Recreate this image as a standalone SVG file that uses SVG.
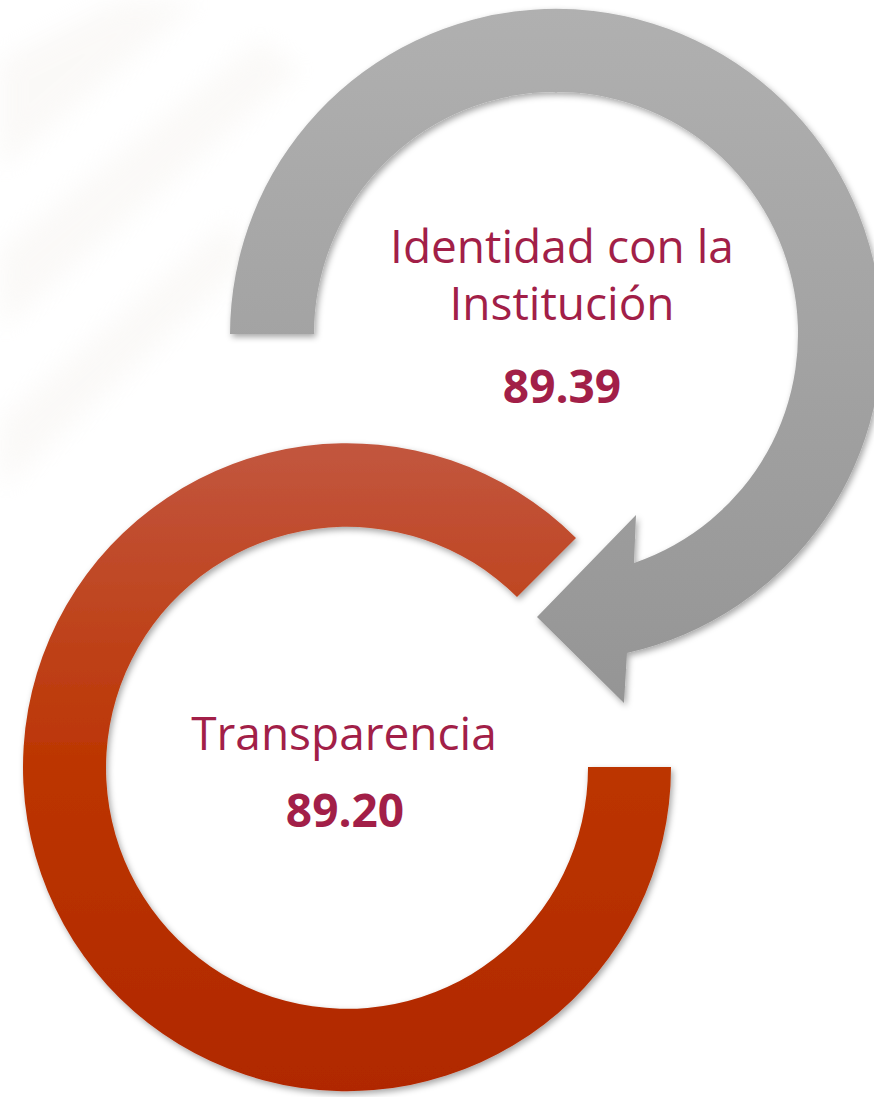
<svg xmlns="http://www.w3.org/2000/svg" width="874" height="1097" viewBox="0 0 874 1097">
  <style>
    .lbl { font-family: "Open Sans", "Liberation Sans", sans-serif; font-size: 46px; fill: #a21f48; text-anchor: middle; }
    .num { font-family: "Open Sans", "Liberation Sans", sans-serif; font-size: 46px; font-weight: bold; fill: #a21f48; text-anchor: middle; }
  </style>
  <defs>
    <linearGradient id="gGray" gradientUnits="userSpaceOnUse" x1="0" y1="8" x2="0" y2="703">
      <stop offset="0" stop-color="#b0b0b0"/>
      <stop offset="1" stop-color="#959595"/>
    </linearGradient>
    <linearGradient id="gRed" gradientUnits="userSpaceOnUse" x1="0" y1="443" x2="0" y2="1091">
      <stop offset="0" stop-color="#c2563f"/>
      <stop offset="0.5" stop-color="#bc3502"/>
      <stop offset="1" stop-color="#b02800"/>
    </linearGradient>
    <filter id="shadow" x="-10%" y="-10%" width="120%" height="120%">
      <feDropShadow dx="2" dy="3" stdDeviation="3" flood-color="#000" flood-opacity="0.35"/>
    </filter>
    <filter id="blur" x="-20%" y="-20%" width="140%" height="140%">
      <feGaussianBlur stdDeviation="12"/>
    </filter>
  </defs>
  <rect width="874" height="1097" fill="#ffffff"/>
  <g id="background" fill="#f3efea" opacity="0.35" filter="url(#blur)">
    <polygon points="0,60 120,0 200,0 0,170"/>
    <polygon points="0,250 260,40 300,70 0,330"/>
    <polygon points="0,420 230,220 250,260 0,490"/>
  </g>
  <g id="connectors">
    <path id="arrow-gray" d="M 314,334 L 230,334 A 326 326 0 1 1 627,653 L 624,703 L 537,617 L 636,515 L 634,563 A 242 242 0 1 0 314,334 Z" fill="url(#gGray)" filter="url(#shadow)"/>
  </g>
  <g id="node-transparencia">
    <path d="M 588,767 L 671,767 A 324 324 0 1 1 576,538 L 517,597 A 241 241 0 1 0 588,767 Z" fill="url(#gRed)" filter="url(#shadow)"/>
    <text class="lbl" x="344" y="750">Transparencia</text>
    <text class="num" x="345" y="827">89.20</text>
  </g>
  <g id="node-identidad">
    <text class="lbl" x="562" y="263">Identidad con la</text>
    <text class="lbl" x="562" y="320">Institución</text>
    <text class="num" x="562" y="403">89.39</text>
  </g>
</svg>
